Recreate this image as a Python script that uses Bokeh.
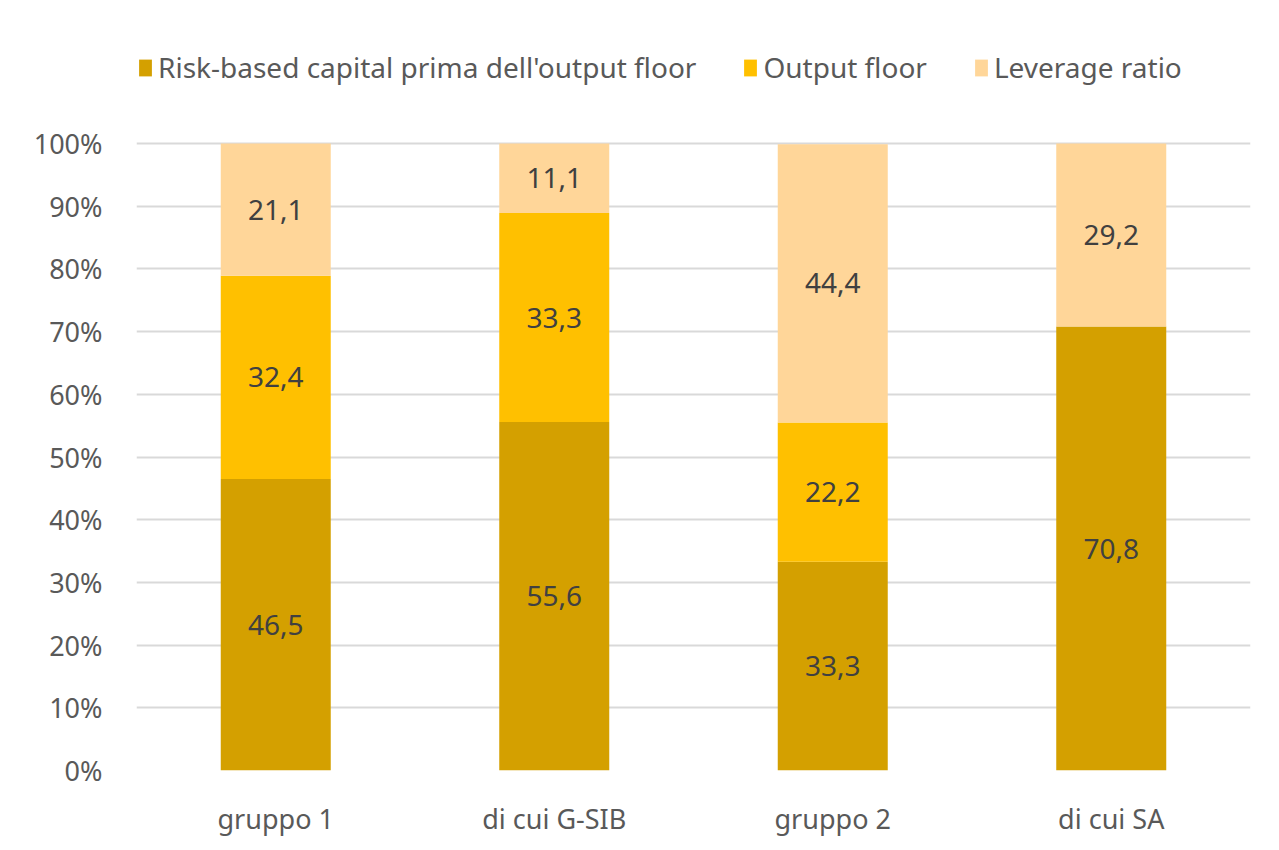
from bokeh.plotting import figure
from bokeh.models import ColumnDataSource, Legend, LegendItem, FixedTicker, PrintfTickFormatter
from bokeh.core.properties import value
from bokeh.embed import file_html
from bokeh.resources import INLINE

categories = ["gruppo 1", "di cui G-SIB", "gruppo 2", "di cui SA"]
risk_based = [46.5, 55.6, 33.3, 70.8]
output_floor = [32.4, 33.3, 22.2, 0.0]
leverage = [21.1, 11.1, 44.4, 29.2]
series_names = ["Risk-based capital prima dell'output floor", "Output floor", "Leverage ratio"]
y_ticks = list(range(0, 101, 10))

colors = ["#D4A000", "#FFC000", "#FFD699"]
FONT = "Noto Sans"

src = ColumnDataSource(dict(cat=categories, rb=risk_based, of=output_floor, lr=leverage))

# frame spans 40..770 px; 100% sits at 143 px, so the range extends above 100
p = figure(x_range=categories, y_range=(0, 116.43), width=1279, height=850,
           output_backend="svg", toolbar_location=None,
           min_border_left=136, min_border_right=29, min_border_top=40, min_border_bottom=80)
p.outline_line_color = None
p.background_fill_color = "white"

rends = p.vbar_stack(["rb", "of", "lr"], x="cat", width=0.395, source=src,
                     color=colors, line_color=None)

# segment labels
lx, ly, lt = [], [], []
for i, c in enumerate(categories):
    base = 0.0
    for vals in (risk_based, output_floor, leverage):
        v = vals[i]
        if v > 0:
            lx.append(c)
            ly.append(base + v / 2)
            lt.append(f"{v:.1f}".replace(".", ","))
        base += v
p.text(x=lx, y=ly, text=lt, text_align="center", text_baseline="middle",
       text_font=value(FONT), text_font_size="28px", text_color="#404040")

p.yaxis.ticker = FixedTicker(ticks=y_ticks)
p.yaxis.formatter = PrintfTickFormatter(format="%d%%")
p.yaxis.axis_line_color = None
p.yaxis.major_tick_line_color = None
p.yaxis.minor_tick_line_color = None
p.yaxis.major_label_text_font = FONT
p.yaxis.major_label_text_font_size = "27px"
p.yaxis.major_label_text_color = "#595959"
p.yaxis.major_label_standoff = 28

p.xaxis.axis_line_color = None
p.xaxis.major_tick_line_color = None
p.xaxis.major_label_text_font = FONT
p.xaxis.major_label_text_font_size = "27px"
p.xaxis.major_label_text_color = "#595959"
p.xaxis.major_label_standoff = 23

p.xgrid.grid_line_color = None
p.ygrid.grid_line_color = "#D9D9D9"
p.ygrid.grid_line_width = 2

items = [LegendItem(label=series_names[k], renderers=[rends[k]]) for k in range(3)]
legend = Legend(items=items, orientation="horizontal", location=(1, 684),
                label_text_font=FONT, label_text_font_size="28px", label_text_color="#595959",
                glyph_width=16, glyph_height=21, label_height=22, label_standoff=5, spacing=46,
                padding=0, margin=0, border_line_color=None, background_fill_alpha=0)
p.add_layout(legend, "center")

open("out.html", "w").write(file_html(p, INLINE))
